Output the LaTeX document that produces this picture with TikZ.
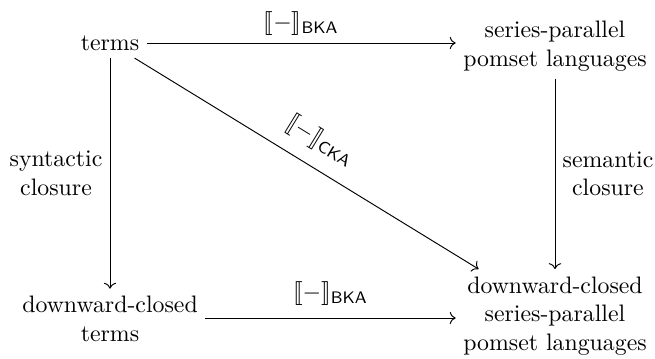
\documentclass[tikz,border=0pt]{standalone}
\usepackage{stmaryrd}
\usetikzlibrary{arrows.meta}
\begin{document}
\begin{tikzpicture}[x=0.42pt,y=-0.42pt,
  obj/.style={align=center,inner sep=3pt},
  arr/.style={->,line width=0.4pt},
  lab/.style={inner sep=3pt,align=center}]
\useasboundingbox (0,0) rectangle (655,358);
\node[obj] (t) at (110,43) {terms};
\node[obj] (sp) at (555,46) {series-parallel\\pomset languages};
\node[obj] (dt) at (110,319) {downward-closed\\terms};
\node[obj] (dsp) at (555,316) {downward-closed\\series-parallel\\pomset languages};
\draw[arr] (t.east) -- (t.east -| sp.west) node[midway,above,lab] {$\llbracket-\rrbracket_{\mathsf{BKA}}$};
\draw[arr] (t.south) -- (t.south |- dt.north) node[midway,left,lab] {syntactic\\closure};
\draw[arr] (sp.south -| dsp.north) -- (dsp.north) node[midway,right,lab] {semantic\\closure};
\draw[arr] (dt.east |- 0,318) -- (dsp.west |- 0,318) node[midway,above,lab,yshift=2pt] {$\llbracket-\rrbracket_{\mathsf{BKA}}$};
\draw[arr] (t) -- (dsp) node[midway,above,sloped,lab,inner sep=6pt] {$\llbracket-\rrbracket_{\mathsf{CKA}}$};
\end{tikzpicture}
\end{document}
